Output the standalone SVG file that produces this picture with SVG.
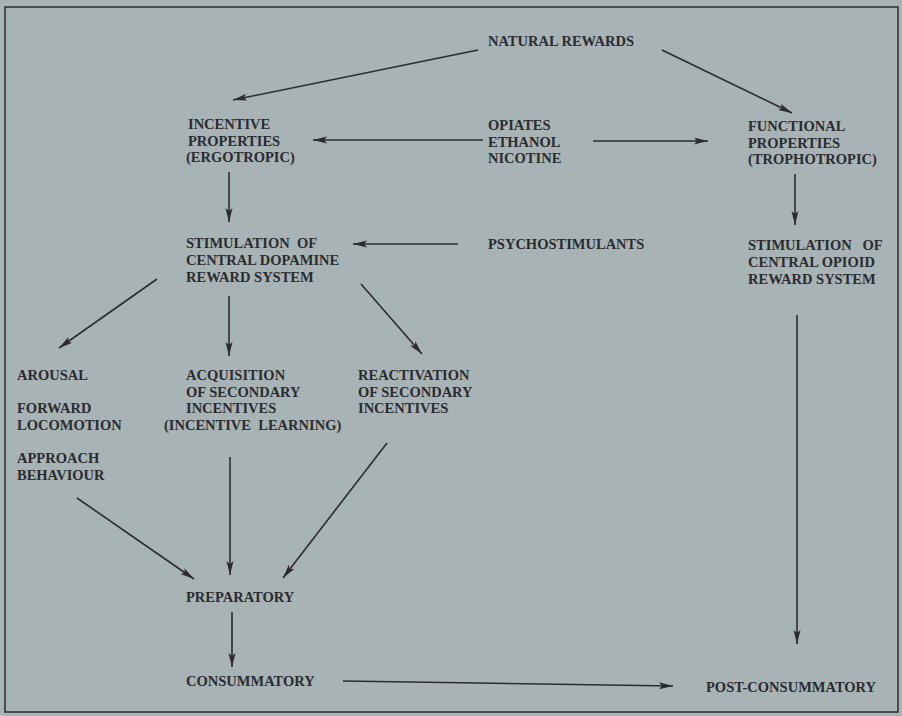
<svg xmlns="http://www.w3.org/2000/svg" width="902" height="716" viewBox="0 0 902 716">
<style>
.t{font-family:"Liberation Serif","Times New Roman",serif;font-weight:bold;font-size:14.5px;fill:#2b2b30}
.c{stroke:#2b2b30;stroke-width:1.6;fill:none;marker-end:url(#ah)}
</style>
<defs>
<marker id="ah" markerUnits="userSpaceOnUse" markerWidth="16" markerHeight="8" refX="14" refY="3.5" orient="auto">
<path d="M0,0 L14,3.5 L0,7 L3,3.5 z" fill="#2b2b30"/>
</marker>
</defs>
<rect x="0" y="0" width="902" height="716" fill="#a8b3b5"/>
<rect x="5" y="7" width="893" height="705" fill="none" stroke="#2b2b30" stroke-width="1.5"/>
<g id="connectors">
<line class="c" x1="478" y1="50" x2="233" y2="100"/>
<line class="c" x1="662" y1="50" x2="792" y2="113"/>
<line class="c" x1="483" y1="140" x2="313" y2="140"/>
<line class="c" x1="593" y1="141" x2="708" y2="141"/>
<line class="c" x1="229" y1="172" x2="229" y2="222"/>
<line class="c" x1="458" y1="244" x2="353" y2="244"/>
<line class="c" x1="795" y1="174" x2="795" y2="225"/>
<line class="c" x1="157" y1="279" x2="59" y2="348"/>
<line class="c" x1="229" y1="296" x2="229" y2="356"/>
<line class="c" x1="361" y1="284" x2="422" y2="354"/>
<line class="c" x1="797" y1="315" x2="797" y2="644"/>
<line class="c" x1="77" y1="498" x2="194" y2="579"/>
<line class="c" x1="230" y1="457" x2="230" y2="575"/>
<line class="c" x1="387" y1="443" x2="283" y2="578"/>
<line class="c" x1="232" y1="612" x2="232" y2="667"/>
<line class="c" x1="343" y1="681" x2="673" y2="686"/>
</g>
<g id="natural-rewards"><text class="t" x="488" y="46">NATURAL REWARDS</text></g>
<g id="incentive"><text class="t" x="188" y="129"><tspan x="188">INCENTIVE</tspan><tspan x="188" dy="16.5">PROPERTIES</tspan><tspan x="186" dy="16.5">(ERGOTROPIC)</tspan></text></g>
<g id="opiates"><text class="t" x="488" y="130"><tspan x="488">OPIATES</tspan><tspan x="488" dy="16.5">ETHANOL</tspan><tspan x="488" dy="16.5">NICOTINE</tspan></text></g>
<g id="functional"><text class="t" x="748" y="131"><tspan x="748">FUNCTIONAL</tspan><tspan x="748" dy="16.5">PROPERTIES</tspan><tspan x="748" dy="16.5">(TROPHOTROPIC)</tspan></text></g>
<g id="dopamine"><text class="t" x="186" y="248"><tspan x="186" xml:space="preserve">STIMULATION  OF</tspan><tspan x="186" dy="17">CENTRAL DOPAMINE</tspan><tspan x="186" dy="17">REWARD SYSTEM</tspan></text></g>
<g id="psychostimulants"><text class="t" x="488" y="249">PSYCHOSTIMULANTS</text></g>
<g id="opioid"><text class="t" x="748" y="250"><tspan x="748" xml:space="preserve">STIMULATION   OF</tspan><tspan x="748" dy="17">CENTRAL OPIOID</tspan><tspan x="748" dy="17">REWARD SYSTEM</tspan></text></g>
<g id="arousal"><text class="t" x="17" y="380"><tspan x="17">AROUSAL</tspan><tspan x="17" y="413">FORWARD</tspan><tspan x="17" y="430">LOCOMOTION</tspan><tspan x="17" y="463">APPROACH</tspan><tspan x="17" y="480">BEHAVIOUR</tspan></text></g>
<g id="acquisition"><text class="t" x="186" y="380"><tspan x="186">ACQUISITION</tspan><tspan x="186" y="397">OF SECONDARY</tspan><tspan x="186" y="413">INCENTIVES</tspan><tspan x="164" y="430" xml:space="preserve">(INCENTIVE  LEARNING)</tspan></text></g>
<g id="reactivation"><text class="t" x="358" y="380"><tspan x="358">REACTIVATION</tspan><tspan x="358" y="397">OF SECONDARY</tspan><tspan x="358" y="413">INCENTIVES</tspan></text></g>
<g id="preparatory"><text class="t" x="186" y="602">PREPARATORY</text></g>
<g id="consummatory"><text class="t" x="186" y="686">CONSUMMATORY</text></g>
<g id="post-consummatory"><text class="t" x="706" y="692">POST-CONSUMMATORY</text></g>
</svg>
